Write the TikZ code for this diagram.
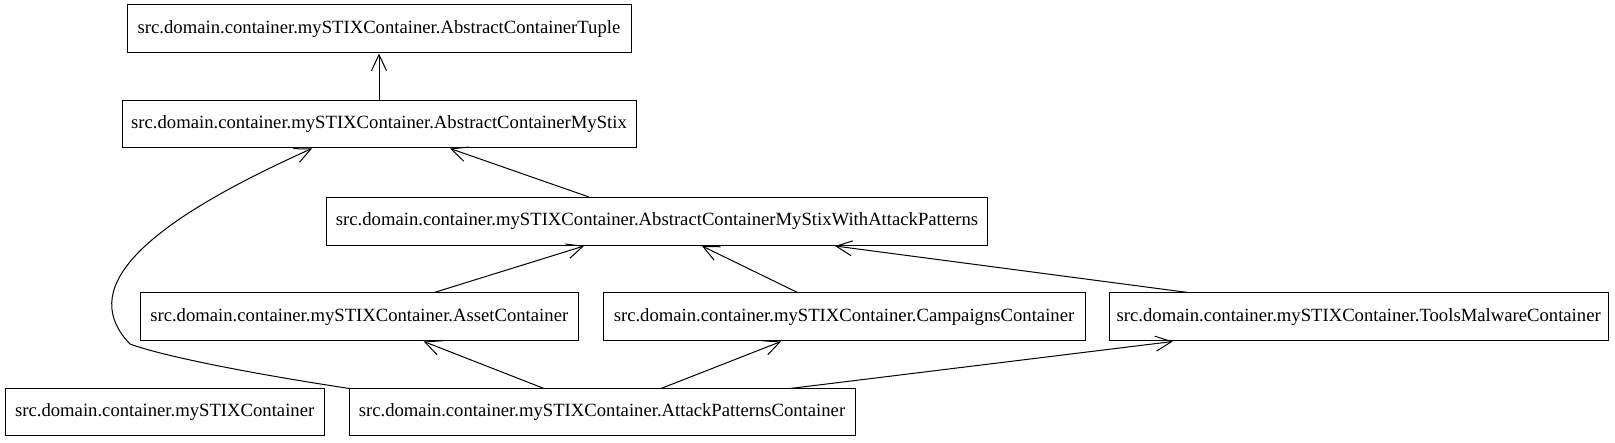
\documentclass[tikz,border=0pt]{standalone}
\usepackage{fontspec}
\setmainfont{Liberation Serif}
\usetikzlibrary{arrows.meta}
\begin{document}
\begin{tikzpicture}[x=1pt,y=-1pt,
  cls/.style={draw, line width=1pt, inner sep=0pt, minimum height=48pt,
    font=\fontsize{18.67}{22}\selectfont},
  dep/.style={line width=1pt,
    -{Straight Barb[length=16pt,width=15pt,line width=1pt]}}]
\path[fill=white, use as bounding box] (0,0) rectangle (1615,443);

\node[cls, minimum width=504pt] (tu) at (379,29) {src.domain.container.mySTIXContainer.AbstractContainerTuple};
\node[cls, minimum width=514pt, minimum height=47pt] (ms) at (379,124.5) {src.domain.container.mySTIXContainer.AbstractContainerMyStix};
\node[cls, minimum width=661pt] (wap) at (657,221.5) {src.domain.container.mySTIXContainer.AbstractContainerMyStixWithAttackPatterns};
\node[cls, minimum width=438.5pt] (as) at (359.25,317) {src.domain.container.mySTIXContainer.AssetContainer};
\node[cls, minimum width=482pt] (ca) at (844,317) {src.domain.container.mySTIXContainer.CampaignsContainer};
\node[cls, minimum width=498.6pt] (tm) at (1358.7,317) {src.domain.container.mySTIXContainer.ToolsMalwareContainer};
\node[cls, minimum width=319.4pt, minimum height=47pt] (my) at (164.7,412.5) {src.domain.container.mySTIXContainer};
\node[cls, minimum width=506pt, minimum height=47pt] (ap) at (602,412.5) {src.domain.container.mySTIXContainer.AttackPatternsContainer};

\draw[dep] (ms.north) -- (tu.south);
\draw[dep] ([xshift=-68pt]wap.north) -- ([xshift=71pt]ms.south);
\draw[dep] ([xshift=75pt]as.north) -- ([xshift=-73pt]wap.south);
\draw[dep] ([xshift=-46.5pt]ca.north) -- ([xshift=45pt]wap.south);
\draw[dep] ([xshift=-170.7pt]tm.north) -- ([xshift=178pt]wap.south);
\draw[dep] ([xshift=-58pt]ap.north) -- ([xshift=64.5pt]as.south);
\draw[dep] ([xshift=59pt]ap.north) -- ([xshift=-63pt]ca.south);
\draw[dep] ([xshift=188pt]ap.north) -- ([xshift=-186pt]tm.south);
\draw[dep] ([xshift=1pt]ap.north west) .. controls (260,375) and (165,357) .. (130,344)
  .. controls (80,292) and (130,230) .. ([xshift=-67pt]ms.south);
\end{tikzpicture}
\end{document}
